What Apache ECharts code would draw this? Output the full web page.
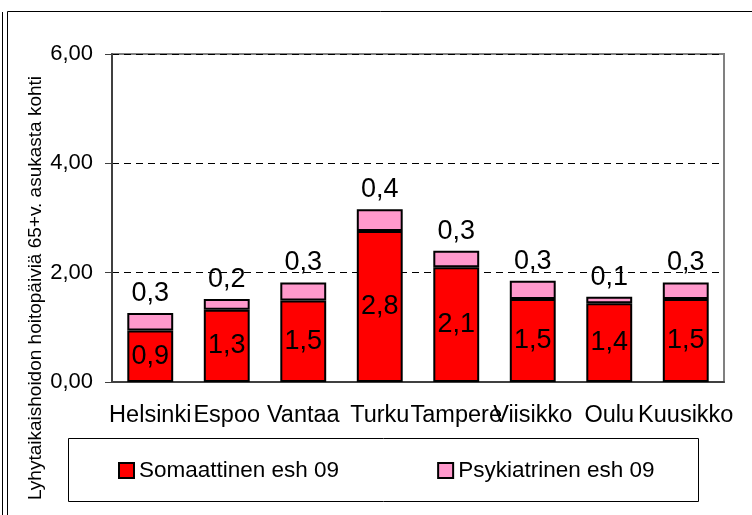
<!DOCTYPE html>
<html>
<head>
<meta charset="utf-8">
<script src="https://cdn.jsdelivr.net/npm/echarts@6/dist/echarts.min.js"></script>
<style>
    html, body { margin: 0; padding: 0; background: #fff; }
    #chart { width: 752px; height: 515px; }
</style>
</head>
<body>
<div id="chart"></div>
<script>
// data
const cities = ['Helsinki', 'Espoo', 'Vantaa', 'Turku', 'Tampere', 'Viisikko', 'Oulu', 'Kuusikko'];
const somaattinen = [0.94, 1.32, 1.49, 2.76, 2.10, 1.52, 1.44, 1.52];
const psykiatrinen = [0.32, 0.20, 0.33, 0.40, 0.30, 0.33, 0.12, 0.30];
const seriesNames = ['Somaattinen esh 09', 'Psykiatrinen esh 09'];
const yTitle = 'Lyhytaikaishoidon hoitopäiviä 65+v. asukasta kohti';

const font = 'Liberation Sans, Arial, sans-serif';
const comma = (v, d) => v.toFixed(d).replace('.', ',');

let chart = echarts.init(document.getElementById('chart'));

chart.setOption({
    animation: false,
    textStyle: { fontFamily: font, color: '#000' },
    grid: {
        left: 112, top: 54, right: 28, bottom: 133,
        show: true, borderColor: '#808080', borderWidth: 2
    },
    legend: {
        data: seriesNames,
        left: 118, top: 459, padding: 0,
        itemWidth: 15, itemHeight: 15, itemGap: 98,
        icon: 'rect',
        textStyle: { fontSize: 22.5, color: '#000', fontFamily: font }
    },
    xAxis: {
        type: 'category',
        data: cities,
        axisLine: { lineStyle: { color: '#404040', width: 2 } },
        axisTick: { length: 7, lineStyle: { color: '#404040' } },
        axisLabel: { interval: 0, fontSize: 23.5, color: '#000', margin: 22 }
    },
    yAxis: {
        type: 'value',
        min: 0, max: 6, interval: 2,
        axisLine: { show: true, lineStyle: { color: '#404040', width: 2 } },
        axisTick: { show: true, length: 7, lineStyle: { color: '#404040' } },
        axisLabel: { fontSize: 22, color: '#000', margin: 19, formatter: v => comma(v, 2) },
        splitLine: { lineStyle: { color: '#000', width: 1, type: [7, 5] } }
    },
    series: [
        {
            name: seriesNames[0],
            type: 'bar',
            stack: 'all',
            data: somaattinen,
            barCategoryGap: '40%',
            itemStyle: { color: '#ff0000', borderColor: '#000', borderWidth: 2 },
            label: {
                show: true, position: 'inside',
                fontSize: 27, color: '#000', fontFamily: font,
                formatter: p => comma(p.value, 1)
            }
        },
        {
            name: seriesNames[1],
            type: 'bar',
            stack: 'all',
            data: psykiatrinen,
            itemStyle: { color: '#ff99cc', borderColor: '#000', borderWidth: 2 },
            label: {
                show: true, position: 'top', distance: 6,
                fontSize: 27, color: '#000', fontFamily: font,
                formatter: p => comma(p.value, 1)
            }
        }
    ],
    graphic: [
        {
            type: 'rect', silent: true,
            shape: { x: 7.5, y: 11.5, width: 760, height: 520 },
            style: { fill: null, stroke: '#000', lineWidth: 1 }
        },
        {
            type: 'line', silent: true,
            shape: { x1: 2.5, y1: 12, x2: 2.5, y2: 515 },
            style: { stroke: '#000', lineWidth: 1 }
        },
        {
            type: 'rect', silent: true, z: -1,
            shape: { x: 68.5, y: 438.5, width: 630, height: 63 },
            style: { fill: '#fff', stroke: '#000', lineWidth: 1 }
        },
        {
            type: 'text', silent: true,
            x: 36, y: 288, rotation: Math.PI / 2,
            style: {
                text: yTitle, fontSize: 19, fontFamily: font, fill: '#000',
                align: 'center', verticalAlign: 'middle'
            }
        }
    ]
});

window.addEventListener('resize', () => chart.resize());
</script>
</body>
</html>
